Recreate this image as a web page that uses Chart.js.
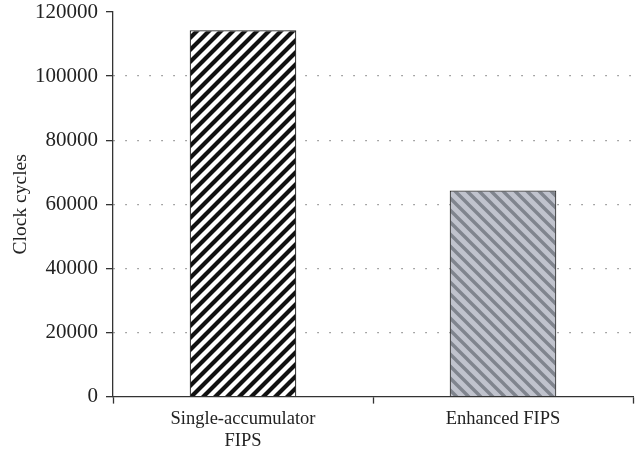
<!DOCTYPE html>
<html>
<head>
<meta charset="utf-8">
<script src="https://cdn.jsdelivr.net/npm/chart.js@4/dist/chart.umd.min.js"></script>
<style>
html,body{margin:0;padding:0;background:#fff;}
#wrap{width:638px;height:456px;}
</style>
</head>
<body>
<div id="wrap"><canvas id="c" width="638" height="456"></canvas></div>
<script>
const categories = [["Single-accumulator", "FIPS"], "Enhanced FIPS"];
const clockCycles = [114300, 64300];
const yTicks = [0, 20000, 40000, 60000, 80000, 100000, 120000];
const yTitle = "Clock cycles";

function makePattern(bg, fg, dir, lw) {
  const s = 12;
  const p = document.createElement('canvas');
  p.width = s; p.height = s;
  const g = p.getContext('2d');
  g.fillStyle = bg; g.fillRect(0, 0, s, s);
  g.strokeStyle = fg; g.lineWidth = lw; g.lineCap = 'square';
  g.beginPath();
  if (dir === '/') {
    for (let k = -1; k <= 1; k++) {
      g.moveTo(k * s - 2, s + 2); g.lineTo(k * s + s + 2, -2);
    }
  } else {
    for (let k = -1; k <= 1; k++) {
      g.moveTo(k * s - 2, -2); g.lineTo(k * s + s + 2, s + 2);
    }
  }
  g.stroke();
  return document.getElementById('c').getContext('2d').createPattern(p, 'repeat');
}

const pat1 = makePattern('#ffffff', '#111111', '/', 4.2);
const pat2 = makePattern('#c0c3cd', '#80858e', '\\', 3.4);

const FONT = "'Liberation Serif', 'DejaVu Serif', serif";

new Chart(document.getElementById('c'), {
  type: 'bar',
  data: {
    labels: categories,
    datasets: [{
      data: clockCycles,
      backgroundColor: [pat1, pat2],
      borderColor: ['#1a1a1a', '#333333'],
      borderWidth: 1.2,
      barPercentage: 0.41,
      categoryPercentage: 1.0
    }]
  },
  options: {
    responsive: false,
    animation: false,
    layout: { padding: { top: 12, right: 5, left: 0, bottom: 0 } },
    plugins: { legend: { display: false }, tooltip: { enabled: false } },
    scales: {
      x: {
        offset: true,
        grid: {
          offset: true,
          drawOnChartArea: false,
          drawTicks: true,
          tickLength: 7,
          tickColor: '#333',
          tickWidth: 1.3
        },
        border: { color: '#333', width: 1.3 },
        ticks: { color: '#222', font: { family: FONT, size: 18.5 }, padding: 4, maxRotation: 0 }
      },
      y: {
        min: 0, max: 120000,
        afterBuildTicks: (ax) => { ax.ticks = yTicks.map(v => ({ value: v })); },
        afterFit: (ax) => { ax.width = 113; ax.paddingTop = 0; ax.paddingBottom = 0; },
        grid: {
          color: (ctx) => (ctx.tick && (ctx.tick.value === 0 || ctx.tick.value === 120000)) ? 'rgba(0,0,0,0)' : '#8c8c8c',
          lineWidth: 1.3,
          tickColor: '#333',
          tickWidth: 1.3,
          tickLength: 7,
          drawTicks: true
        },
        border: { color: '#333', width: 1.3, dash: [1.5, 10.5], dashOffset: 0 },
        ticks: {
          color: '#222', font: { family: FONT, size: 21 }, padding: 8,
          callback: (v) => String(v)
        },
        title: { display: true, text: yTitle, color: '#222', font: { family: FONT, size: 19.5 }, padding: { top: 9, bottom: 0 } }
      }
    }
  }
});
</script>
</body>
</html>
